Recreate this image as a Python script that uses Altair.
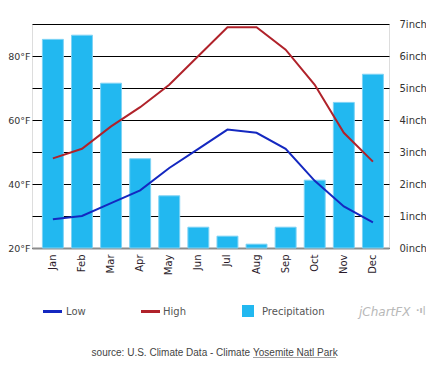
import altair as alt
import pandas as pd

months = ["Jan", "Feb", "Mar", "Apr", "May", "Jun", "Jul", "Aug", "Sep", "Oct", "Nov", "Dec"]
low_f = [29, 30, 34, 38, 45, 51, 57, 56, 51, 41, 33, 28]
high_f = [48, 51, 58, 64, 71, 80, 89, 89, 82, 71, 56, 47]
precip_in = [6.52, 6.65, 5.15, 2.79, 1.63, 0.65, 0.37, 0.12, 0.65, 2.12, 4.55, 5.43]
temp_ticks = [20, 40, 60, 80]
inch_ticks = [0, 1, 2, 3, 4, 5, 6, 7]

FONT = "DejaVu Sans"

bars_df = pd.DataFrame({"month": months, "precip": precip_in})
lines_df = pd.DataFrame({
    "month": months * 2,
    "temp": low_f + high_f,
    "series": ["Low"] * 12 + ["High"] * 12,
})

x_enc = alt.X(
    "month:N", sort=months, title=None,
    scale=alt.Scale(paddingInner=0.28, paddingOuter=0.275, align=0.65),
    axis=alt.Axis(labelAngle=-90, labelAlign="right", labelBaseline="middle",
                  labelPadding=6, ticks=False, domainColor="#8c8c8c", domainWidth=2,
                  labelColor="#2a1a2a", labelFont=FONT, labelFontSize=10, grid=False),
)

bars = alt.Chart(bars_df).mark_bar(color="#22B8F0", stroke="#7ED3F5", strokeWidth=1).encode(
    x=x_enc,
    y=alt.Y("precip:Q", title=None,
            scale=alt.Scale(domain=[0, 7], nice=False, zero=True),
            axis=alt.Axis(orient="right", values=inch_ticks, labelExpr="datum.value + 'inch'",
                          grid=True, gridColor="#000000", gridOpacity=1, gridWidth=1,
                          ticks=False, domain=False, labelPadding=10,
                          labelColor="#333333", labelFont=FONT, labelFontSize=10)),
)

lines = alt.Chart(lines_df).mark_line(strokeWidth=2).encode(
    x=alt.X("month:N", sort=months),
    y=alt.Y("temp:Q", title=None,
            scale=alt.Scale(domain=[20, 90], nice=False, zero=False),
            axis=alt.Axis(orient="left", values=temp_ticks, labelExpr="datum.value + '°F'",
                          grid=False, ticks=False, domain=False, labelPadding=2,
                          labelColor="#333333", labelFont=FONT, labelFontSize=9.5)),
    color=alt.Color("series:N", scale=alt.Scale(domain=["Low", "High"], range=["#1428C0", "#B0222A"]),
                    legend=None),
    detail="series:N",
)

one = alt.Data(values=[{"a": 1}])

def rule(x1, x2, y, color, width):
    return alt.Chart(one).mark_rule(color=color, strokeWidth=width).encode(
        x=alt.value(x1), x2=alt.value(x2), y=alt.value(y))

def text(t, x, y, align="left", color="#555555", size=10, font=FONT, style="normal", weight="normal"):
    return alt.Chart(one).mark_text(text=t, align=align, baseline="middle", color=color,
                                    fontSize=size, font=font, fontStyle=style,
                                    fontWeight=weight).encode(x=alt.value(x), y=alt.value(y))

legend_low = rule(11, 30, 287.5, "#1428C0", 3)
legend_high = rule(109, 128, 287.5, "#B0222A", 3)
legend_sq = alt.Chart(one).mark_rect(color="#22B8F0").encode(
    x=alt.value(210), x2=alt.value(222), y=alt.value(281), y2=alt.value(293))
t_low = text("Low", 34, 287.5)
t_high = text("High", 131, 287.5)
t_prec = text("Precipitation", 230, 287.5)
t_logo = text("jChartFX", 327, 288, color="#b8b8b8", size=12, style="italic")
t_logo2 = text("·ı|", 384, 286, color="#b8b8b8", size=9, weight="bold")
src1 = text("source: U.S. Climate Data - Climate", 218, 329, align="right", color="#444444",
            size=10, font="Liberation Sans Narrow, Liberation Sans")
src2 = text("Yosemite Natl Park", 221, 329, align="left", color="#444444",
            size=10, font="Liberation Sans Narrow, Liberation Sans")
underline = rule(221, 304, 334, "#444444", 1)

chart = alt.layer(
    bars, lines, legend_low, legend_high, legend_sq, t_low, t_high, t_prec,
    t_logo, t_logo2, src1, src2, underline,
).resolve_scale(y="independent").properties(
    width=357, height=224,
    autosize=alt.AutoSizeParams(type="none"),
    padding={"left": 24, "top": 16, "right": 37, "bottom": 110},
).configure_view(stroke=None).configure(background="white")

chart.save("out.html", embed_options={"renderer": "svg", "actions": False})
